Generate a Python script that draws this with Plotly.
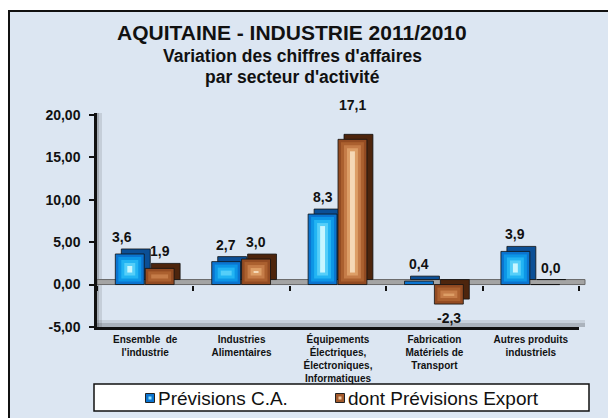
import numpy as np
import plotly.graph_objects as go

# ---------------- data ----------------
categories = [
    "Ensemble  de<br>l'industrie",
    "Industries<br>Alimentaires",
    "Équipements<br>Électriques,<br>Électroniques,<br>Informatiques",
    "Fabrication<br>Matériels de<br>Transport",
    "Autres produits<br>industriels",
]
previsions_ca = [3.6, 2.7, 8.3, 0.4, 3.9]
previsions_export = [1.9, 3.0, 17.1, -2.3, 0.0]
series_names = ["Prévisions C.A.", "dont Prévisions Export"]
y_tickvals = [-5, 0, 5, 10, 15, 20]
y_ticktext = ["-5,00", "0,00", "5,00", "10,00", "15,00", "20,00"]
title_lines = ["AQUITAINE - INDUSTRIE 2011/2010",
               "Variation des chiffres d'affaires",
               "par secteur d'activité"]

# ---------------- layout constants ----------------
W, H = 608, 418
L, R, T, B = 97, 29, 113, 91
YMIN, YMAX = -5, 20.2
PW, PH = W - L - R, H - T - B
PPU_Y = PH / (YMAX - YMIN)          # px per value unit
PPU_X = PW / len(categories)        # px per category
DX = 6 / PPU_X                       # 3D depth (x)
DY = 5 / PPU_Y                       # 3D depth (y)
FONT = "Liberation Sans, Arial, sans-serif"


def fx(px):
    return (px - L) / PW


def fy(py):
    return (H - B - py) / PH


xi = np.arange(len(categories))
fig = go.Figure()

blue_layers = [(0, 0, "#0b74d0"), (3, 3, "#0d96e6"), (6, 6, "#22b4f3"),
               (9, 9, "#55cff9"), (12, 12, "#c8f6ff")]
brown_layers = [(0, 0, "#934b22"), (3, 3, "#ab602f"), (6, 6, "#c57c48"),
                (9, 9, "#dd9e66"), (12, 12, "#f5d8b6")]

series = [
    (previsions_ca, -0.31, 0.30, "#0b4f96", blue_layers, series_names[0]),
    (previsions_export, 0.0, 0.30, "#4d250d", brown_layers, series_names[1]),
]

for vals, off, wid, back_col, layers, name in series:
    v = np.array(vals, dtype=float)
    # side / top (back face shifted in depth)
    fig.add_trace(go.Bar(
        x=xi, y=v, base=np.full_like(v, DY), offset=off + DX, width=wid,
        marker=dict(color=back_col, line=dict(color="#111111", width=0.8)),
        showlegend=False, hoverinfo="skip"))
    lo = np.minimum(0, v)
    hi = np.maximum(0, v)
    for k, (ix, iy, col) in enumerate(layers):
        lo_k = lo + iy / PPU_Y
        hi_k = hi - iy / PPU_Y
        length = np.maximum(hi_k - lo_k, 0)
        fig.add_trace(go.Bar(
            x=xi, y=length, base=lo_k,
            offset=off + ix / PPU_X, width=wid - 2 * ix / PPU_X,
            marker=dict(color=col,
                        line=dict(color="#111111", width=0.8 if k == 0 else 0)),
            name=name, showlegend=False, hoverinfo="skip"))

# invisible trace to carry the zero-line tick axis
fig.add_trace(go.Scatter(x=xi, y=np.zeros(len(xi)), xaxis="x2", mode="markers",
                         marker=dict(opacity=0), showlegend=False,
                         hoverinfo="skip"))

# ---------------- data labels ----------------
label_nudge = {(1, 2): (0, 17), (0, 0): (-8, 0), (1, 4): (6, 0)}
annotations = []
for s, (vals, off, wid, _, _, _) in enumerate(series):
    for i, v in enumerate(vals):
        nx, ny = label_nudge.get((s, i), (0, 0))
        txt = f"{v:.1f}".replace(".", ",")
        if v >= 0:
            annotations.append(dict(
                x=i + off + wid / 2, y=v + DY, xref="x", yref="y",
                text=txt, showarrow=False, yanchor="bottom",
                xshift=nx, yshift=2 + ny,
                font=dict(family=FONT, size=14, color="#111111", weight="bold")))
        else:
            annotations.append(dict(
                x=i + off + wid / 2, y=v, xref="x", yref="y",
                text=txt, showarrow=False, yanchor="top",
                xshift=nx, yshift=-4 + ny,
                font=dict(family=FONT, size=14, color="#111111", weight="bold")))

# ---------------- titles ----------------
title_specs = [(title_lines[0], 21, 33), (title_lines[1], 17.5, 56), (title_lines[2], 17.5, 77)]
for txt, size, py in title_specs:
    annotations.append(dict(
        x=fx(292), y=fy(py), xref="paper", yref="paper", text=txt,
        showarrow=False, xanchor="center", yanchor="middle",
        font=dict(family=FONT, size=size, color="#111111", weight="bold")))

# ---------------- legend (drawn manually) ----------------
legend_items = [(series_names[0], 150, "#0b74d0", "#8fe4ff"),
                (series_names[1], 340, "#a35a2c", "#f0c9a0")]
for txt, cx, _, _ in legend_items:
    annotations.append(dict(
        x=fx(cx + 6), y=fy(398), xref="paper", yref="paper", text=txt,
        showarrow=False, xanchor="left", yanchor="middle",
        font=dict(family=FONT, size=19, color="#111111")))

# ---------------- shapes (panel, floor, shadows, legend box) ----------------
shapes = [
    dict(type="rect", xref="paper", yref="paper", x0=fx(9), x1=fx(650),
         y0=fy(460), y1=fy(11), fillcolor="#dce6f2",
         line=dict(color="#111111", width=2), layer="below"),
    dict(type="rect", xref="paper", yref="paper", x0=fx(96), x1=fx(99),
         y0=0, y1=1, fillcolor="rgba(0,0,0,0.25)", line=dict(width=0), layer="below"),
    dict(type="rect", xref="paper", yref="paper", x0=fx(99), x1=fx(102),
         y0=0, y1=1, fillcolor="rgba(0,0,0,0.10)", line=dict(width=0), layer="below"),
    dict(type="rect", xref="paper", yref="paper", x0=0, x1=fx(585),
         y0=0, y1=fy(323), fillcolor="rgba(0,0,0,0.22)", line=dict(width=0), layer="below"),
    dict(type="rect", xref="paper", yref="paper", x0=0, x1=fx(585),
         y0=fy(323), y1=fy(320), fillcolor="rgba(0,0,0,0.09)", line=dict(width=0), layer="below"),
    dict(type="rect", xref="paper", yref="y", x0=0, x1=fx(585),
         y0=0, y1=DY, fillcolor="#a4a4a4",
         line=dict(color="#6a6a6a", width=1), layer="below"),
    dict(type="rect", xref="paper", yref="paper", x0=fx(94), x1=fx(589),
         y0=fy(411), y1=fy(384), fillcolor="white",
         line=dict(color="#111111", width=1.5), layer="below"),
]
for txt, cx, col, hl in legend_items:
    shapes.append(dict(type="rect", xref="paper", yref="paper",
                       x0=fx(cx - 4.5), x1=fx(cx + 4.5), y0=fy(402.5), y1=fy(393.5),
                       fillcolor=col, line=dict(color="#222222", width=1)))
    shapes.append(dict(type="rect", xref="paper", yref="paper",
                       x0=fx(cx - 1.5), x1=fx(cx + 1.5), y0=fy(399.5), y1=fy(396.5),
                       fillcolor=hl, line=dict(width=0)))

fig.update_layout(
    width=W, height=H,
    margin=dict(l=L, r=R, t=T, b=B, pad=0, autoexpand=False),
    paper_bgcolor="white", plot_bgcolor="rgba(0,0,0,0)",
    barmode="overlay",
    font=dict(family=FONT, color="#111111"),
    showlegend=False,
    xaxis=dict(range=[-0.5, len(categories) - 0.5], tickvals=xi,
               ticktext=categories, ticks="", showline=True,
               linecolor="#111111", linewidth=2.5, showgrid=False,
               zeroline=False, ticklabelstandoff=1, automargin=False,
               tickfont=dict(family=FONT, size=10, color="#111111", weight="bold")),
    xaxis2=dict(overlaying="x", anchor="free", matches="x",
                position=(0 - YMIN) / (YMAX - YMIN), side="bottom",
                range=[-0.5, len(categories) - 0.5],
                tickvals=np.arange(len(categories) + 1) - 0.5,
                ticks="outside", ticklen=5, tickwidth=2, tickcolor="#111111",
                showticklabels=False, showline=False, showgrid=False,
                zeroline=False, automargin=False),
    yaxis=dict(range=[YMIN, YMAX], tickvals=y_tickvals, ticktext=y_ticktext,
               ticks="outside", ticklen=5, tickwidth=2, tickcolor="#111111",
               showline=True, linecolor="#111111", linewidth=2.5,
               showgrid=False, zeroline=False, ticklabelstandoff=6,
               automargin=False,
               tickfont=dict(family=FONT, size=14, color="#111111", weight="bold")),
    annotations=annotations,
    shapes=shapes,
)

fig.write_html("out.html",
               config={"displayModeBar": False},
               post_script="document.body.style.margin='0';"
                           "document.body.style.overflow='hidden';")
